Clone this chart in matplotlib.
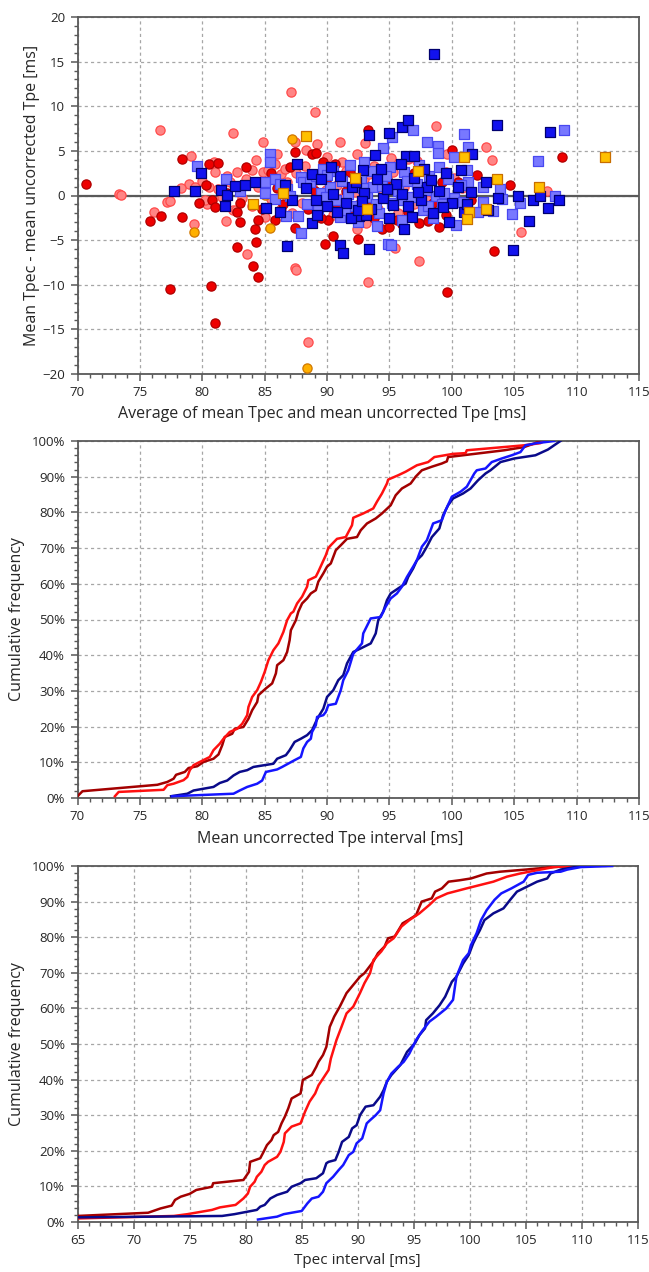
import matplotlib
matplotlib.use("Agg")
import matplotlib.pyplot as plt
from matplotlib.ticker import MultipleLocator, FuncFormatter
import numpy as np

plt.rcParams['font.family'] = ['Open Sans', 'DejaVu Sans']

# ---------------- Bland-Altman data: (average, difference) ----------------
dark_red_avg = [70.7, 75.8, 76.7, 77.4, 78.4, 78.4, 80.5, 80.7, 81.0, 81.3, 80.8, 81.0,
                82.8, 82.8, 83.0, 83.0, 83.5, 84.1, 84.5, 84.3, 84.2, 84.45, 87.4, 88.8,
                89.1, 89.7, 87.4, 89.8, 90.5, 92.5, 93.3, 94.4, 95.0, 95.6, 97.4, 98.1,
                99.65, 100.0, 100.5, 103.4, 104.7, 108.8, 90.1,
                85.5, 86.0, 86.5, 88.0, 88.5, 89.0, 89.5, 90.0, 90.8, 91.5, 92.0, 92.8,
                93.5, 95.5, 96.5, 97.0, 98.5, 99.2, 99.5, 101.5, 102.0, 82.0, 80.3, 79.7,
                84.8, 85.8, 87.0, 90.6, 91.8, 93.8, 94.8, 96.0, 97.8, 99.0]
dark_red_diff = [1.25, -2.9, -2.3, -10.5, 4.05, -2.45, 3.5, -10.1, -14.3, 3.6, -0.5, -1.3,
                 -5.8, -1.9, -3.0, -0.85, 3.15, -7.9, -9.1, -5.25, -3.7, -2.7, 4.9, 4.6,
                 4.75, 3.7, -3.6, -5.4, -4.5, -4.9, 7.3, -3.8, -3.5, -2.8, -3.1, -2.9,
                 -10.8, 5.1, 1.55, -6.2, 1.2, 4.3, -2.8,
                 2.5, 0.8, -1.0, 1.8, -1.5, 0.5, -2.5, 2.0, -1.0, 0.5, -2.0, 1.2,
                 -1.2, 0.8, -1.8, 2.5, -0.8, 1.5, -2.2, -0.5, 2.3, 0.3, 1.2, -0.8,
                 -1.5, -2.8, 3.2, 3.5, 2.6, -2.5, 1.8, -3.2, 0.6, -3.5]

light_red_avg = [73.3, 73.5, 76.6, 76.1, 77.2, 77.4, 79.1, 78.9, 79.4, 80.0, 80.5, 80.9,
                 81.0, 79.3, 80.4, 81.9, 82.5, 82.7, 82.5, 83.6, 84.9, 84.9, 87.1, 87.4,
                 87.4, 87.5, 88.5, 89.0, 89.2, 91.05, 92.4, 93.05, 92.4, 93.1, 93.3, 95.45,
                 97.4, 95.1, 98.7, 99.6, 102.7, 103.2, 105.55, 107.6,
                 82.0, 82.8, 83.5, 84.0, 84.5, 85.3, 85.8, 86.3, 86.8, 87.5, 88.2, 88.8,
                 89.6, 90.2, 90.8, 91.5, 92.2, 93.0, 93.8, 94.5, 95.3, 96.2, 97.2, 98.0,
                 99.5, 100.8, 83.2, 84.0, 85.5, 86.3, 87.2, 88.0, 89.2, 90.5, 91.2, 92.6,
                 94.1, 95.7, 97.0, 80.2, 81.3, 82.2, 78.3, 84.3, 86.0, 88.3, 90.0, 91.2,
                 96.5, 100.2, 81.6, 83.0, 85.0, 86.6, 88.6, 89.9, 91.9, 93.4]
light_red_diff = [0.2, 0.1, 7.3, -1.9, -0.7, -0.6, 4.4, 1.3, 1.0, 1.6, 1.0, 3.7,
                  2.6, -3.2, -0.9, -2.85, -1.6, -1.6, 7.0, -6.55, 6.05, 2.6, 11.55, 6.0,
                  -8.1, -8.3, -16.4, 9.35, 5.75, 6.0, 4.65, 5.9, -3.7, -3.1, -9.7, -5.9,
                  -7.35, 4.2, 7.8, 4.7, 5.4, 4.0, -4.05, 0.45,
                  2.2, 2.6, 1.9, 2.9, 1.0, 2.9, 3.5, 2.4, 1.5, 2.5, 3.3, 0.9,
                  1.9, 3.0, 1.2, 2.8, 0.4, 1.8, 3.3, 0.6, 2.6, 1.0, 3.9, -0.5,
                  2.6, 0.8, -0.3, -1.2, -0.4, -1.5, -2.0, -0.8, -1.3, -2.2, -0.3, -1.0,
                  -1.5, -2.0, -1.0, -0.5, 0.7, 1.5, 0.8, 4.0, 4.6, 5.1, 4.3, 3.8,
                  4.1, 2.0, -0.2, 0.9, -2.4, 3.0, 2.0, 0.6, -1.6, 2.4]

dark_blue_avg = [77.7, 79.4, 79.9, 81.5, 82.0, 82.6, 83.4, 84.2, 81.8, 85.1, 86.2, 86.6,
                 87.2, 87.6, 86.8, 88.8, 88.8, 89.1, 93.4, 95.0, 96.0, 96.5, 98.6, 93.85,
                 96.3, 97.0, 95.9, 92.9, 96.2, 93.4, 91.0, 91.3, 103.65, 107.9, 101.6, 102.7,
                 103.7, 102.9, 105.3, 106.5, 107.05, 108.6, 107.7, 106.2, 104.9, 92.6, 93.1,
                 91.9,
                 88.3, 89.5, 90.0, 90.5, 91.0, 91.5, 92.0, 92.5, 93.0, 93.5, 94.0, 94.5,
                 95.0, 95.5, 96.0, 96.5, 97.0, 97.5, 98.0, 98.5, 99.0, 99.5, 100.0, 100.5,
                 101.0, 101.5, 99.8, 97.8, 94.3, 90.3, 89.2, 100.7,
                 90.8, 92.3, 94.8, 96.8, 98.3, 99.3, 101.2, 95.3, 97.3, 92.8]
dark_blue_diff = [0.5, 0.55, 2.5, 0.6, 0.05, 1.1, 1.15, 1.55, -1.2, -1.45, -1.9, 1.2,
                  -0.5, 3.5, -5.7, -3.05, 2.4, -0.5, 6.8, 7.0, 7.7, 8.5, 15.85, 4.5,
                  4.4, 4.4, 3.5, 2.85, -3.8, -5.95, -5.5, -6.4, 7.9, 7.15, 4.7, 1.55,
                  -0.3, -1.6, -0.05, -0.45, -0.05, -0.5, -1.45, -2.85, -6.1, -2.3, -2.2,
                  -2.55,
                  0.8, 1.8, -1.2, 0.2, 2.2, -0.8, 1.0, -1.6, 0.3, -1.5, 1.8, -0.3,
                  -2.5, 1.3, 0.2, -1.2, 2.0, -0.5, 1.0, -2.0, 0.5, 2.5, -0.8, 0.9,
                  -1.8, 0.4, -3.0, 3.0, 3.0, 3.2, -2.2, 2.9,
                  -1.9, 1.5, 0.7, -2.4, 1.7, -1.3, -0.9, -1.1, 0.4, -0.6]

light_blue_avg = [79.6, 81.9, 83.0, 85.0, 85.4, 85.4, 85.8, 85.0, 85.8, 86.7, 87.7, 87.9,
                  86.8, 87.9, 88.1, 88.6, 89.1, 89.7, 89.5, 95.2, 96.85, 98.0, 98.9, 98.9,
                  94.5, 95.05, 93.6, 94.0, 94.9, 95.1, 101.0, 101.3, 100.2, 106.9, 109.0,
                  108.3, 105.5, 104.85, 102.5, 103.9, 103.3, 102.5, 102.1, 101.3, 101.2,
                  100.3, 104.0,
                  90.2, 90.7, 91.2, 91.7, 92.2, 92.7, 93.2, 93.7, 94.2, 94.7, 95.2, 95.7,
                  96.2, 96.7, 97.2, 97.7, 98.2, 98.7, 99.2, 99.7, 100.2, 100.7, 89.3, 88.4,
                  90.5, 91.8, 93.0, 96.0, 98.5, 97.4, 99.0, 91.0, 92.5, 87.0, 86.2,
                  89.9, 91.4, 92.9, 94.4, 95.9, 97.9, 99.4, 100.9, 90.0, 93.9, 96.4, 98.1]
light_blue_diff = [3.3, 1.8, 0.55, 1.55, 4.7, 3.8, 1.8, 0.3, -0.4, -2.3, -2.3, -4.2,
                   0.7, 2.1, 1.55, 1.5, 2.15, 3.0, 0.3, 6.5, 7.3, 6.0, 5.5, 4.8,
                   5.3, 3.2, 2.7, -3.4, -5.4, -5.6, 6.9, 5.4, 4.35, 3.9, 7.35,
                   -0.05, -0.8, -2.1, 1.0, 0.7, -1.7, -0.7, -1.8, 1.55, 2.9,
                   -3.3, -0.4,
                   1.0, -0.5, 1.6, 0.2, -1.2, 1.9, -0.2, 0.9, -2.0, 2.2, -0.8, 0.5,
                   2.6, -0.2, 1.3, -1.6, 2.2, 0.0, -1.0, 1.8, -0.3, 1.2, -1.5, -1.0,
                   2.7, 3.4, 3.8, -2.8, -2.5, 3.4, 3.2, -2.4, -3.0, 0.0, 1.3,
                   -0.2, -1.6, 0.8, 1.1, -0.5, 0.6, 0.3, -0.7, 2.3, -0.9, 1.6, -1.2]

orange_sq_avg = [84.1, 88.3, 93.2, 92.25, 97.3, 101.0, 103.6, 107.0, 112.3, 101.35, 101.2,
                 102.7, 86.5]
orange_sq_diff = [-0.95, 6.7, -1.55, 2.0, 2.8, 4.3, 1.9, 1.0, 4.35, -1.8, -2.6, -1.55, 0.3]
orange_ci_avg = [79.3, 87.2, 85.4, 88.4, 94.65, 85.0]
orange_ci_diff = [-4.1, 6.3, -3.6, -19.3, 2.4, 0.1]

# ---------------- Cumulative frequency curves (value, cumulative %) ----------------
tpe_dark_red_x = [70.0, 70.4, 76.4, 77.2, 77.7, 77.9, 78.6, 78.9, 79.6, 80.1, 80.9, 81.3,
                  81.6, 81.8, 82.4, 82.6, 83.3, 83.7, 84.0, 84.4, 84.5, 85.1, 85.6, 85.9,
                  86.0, 86.5, 86.8, 87.0, 87.1, 87.5, 87.7, 88.0, 88.4, 88.7, 89.1, 89.3,
                  89.7, 90.0, 90.3, 90.7, 91.1, 91.6, 92.4, 92.7, 93.2, 93.9, 94.4, 95.1,
                  95.5, 96.0, 96.7, 97.1, 97.6, 98.4, 99.2, 99.6, 99.7, 104.2, 105.8,
                  106.6, 107.1]
tpe_dark_red_y = [0.5, 1.9, 3.7, 4.5, 5.4, 6.5, 7.3, 8.4, 8.9, 10.1, 11.0, 12.2,
                  14.8, 17.1, 18.0, 19.4, 19.9, 22.2, 24.6, 26.9, 28.8, 30.7, 32.1, 34.9,
                  37.2, 38.6, 40.9, 44.2, 47.0, 49.8, 52.2, 54.5, 55.9, 57.3, 58.2, 60.6,
                  62.9, 64.8, 65.7, 69.4, 70.8, 72.6, 73.1, 75.0, 76.9, 78.3, 79.7, 82.0,
                  84.8, 86.7, 88.1, 90.0, 91.8, 92.8, 93.7, 94.3, 95.5, 97.4, 98.3,
                  99.3, 100.0]

tpe_red_x = [73.0, 73.3, 76.9, 77.2, 77.7, 78.5, 78.8, 79.0, 79.3, 79.8, 80.6, 80.9,
             81.4, 81.7, 82.2, 82.8, 83.2, 83.6, 83.7, 84.0, 84.4, 84.7, 85.0, 85.3,
             85.7, 86.1, 86.5, 86.8, 87.1, 87.3, 87.6, 88.0, 88.4, 88.5, 89.1, 89.3,
             89.6, 89.9, 90.1, 90.3, 90.8, 91.5, 92.0, 92.1, 92.9, 93.7, 94.0, 94.4,
             94.8, 94.9, 95.7, 96.3, 97.2, 98.1, 98.6, 100.1, 101.1, 101.2, 105.8,
             107.1, 107.4]
tpe_red_y = [0.5, 1.7, 2.3, 3.6, 4.0, 5.0, 5.9, 7.8, 9.2, 10.1, 11.5, 13.4,
             15.2, 16.6, 18.5, 19.4, 20.8, 23.2, 25.5, 28.3, 30.2, 32.5, 35.3, 38.6,
             41.4, 43.3, 46.5, 49.8, 51.7, 52.2, 54.5, 56.4, 59.2, 61.0, 62.0, 63.4,
             65.7, 68.0, 70.0, 70.8, 72.6, 73.1, 76.4, 78.5, 79.7, 81.1, 83.0, 85.3,
             88.1, 89.2, 90.4, 91.4, 93.2, 94.1, 95.5, 96.4, 96.6, 97.4, 98.8,
             99.4, 100.0]

tpe_dark_blue_x = [77.5, 78.8, 79.3, 80.9, 81.4, 82.0, 82.5, 83.0, 83.6, 84.1, 85.7, 86.0,
                   86.7, 87.0, 87.4, 87.9, 88.4, 88.8, 89.1, 89.3, 89.7, 90.0, 90.5, 90.9,
                   91.3, 91.6, 92.1, 92.7, 93.5, 93.9, 94.1, 94.5, 94.8, 95.1, 95.7, 96.3,
                   96.5, 96.9, 97.2, 97.6, 98.0, 98.4, 99.0, 99.3, 99.7, 100.1, 100.9,
                   101.5, 102.1, 102.7, 103.1, 103.9, 105.0, 106.7, 107.7, 108.7]
tpe_dark_blue_y = [0.5, 1.2, 2.1, 3.1, 4.2, 4.9, 6.3, 7.3, 7.8, 8.7, 9.6, 11.0,
                   12.0, 13.4, 15.7, 16.6, 17.6, 19.0, 21.3, 22.7, 25.0, 28.3, 30.2, 33.0,
                   34.4, 37.7, 40.9, 41.9, 43.3, 46.1, 49.8, 52.2, 55.4, 57.3, 58.7, 60.1,
                   61.9, 64.3, 66.6, 68.0, 70.4, 73.1, 75.5, 79.2, 82.0, 83.9, 85.3,
                   86.7, 89.0, 90.9, 91.8, 94.1, 95.1, 96.0, 97.6, 100.0]

tpe_blue_x = [77.6, 82.5, 83.0, 83.6, 84.4, 84.8, 85.1, 86.0, 86.4, 87.4, 87.9, 88.1,
              88.4, 88.7, 88.8, 89.1, 89.2, 89.7, 89.9, 90.1, 90.7, 91.1, 91.3, 91.7,
              92.1, 92.8, 92.9, 93.5, 94.3, 94.7, 95.1, 95.6, 96.0, 96.4, 96.9, 97.2,
              97.6, 98.0, 98.5, 99.2, 99.5, 100.0, 100.7, 101.2, 101.8, 102.0, 102.7,
              103.2, 104.0, 104.8, 105.5, 105.9, 106.8, 108.2]
tpe_blue_y = [0.5, 1.2, 2.1, 3.1, 4.0, 4.9, 7.3, 8.0, 8.7, 10.6, 11.5, 13.9,
              15.7, 16.6, 18.5, 20.4, 22.7, 23.2, 24.1, 26.0, 26.4, 30.2, 33.0, 35.8,
              40.4, 43.3, 46.1, 50.3, 50.7, 53.6, 55.9, 57.3, 59.2, 61.9, 64.8, 66.6,
              70.4, 72.2, 76.9, 77.8, 80.6, 84.4, 85.8, 87.2, 90.9, 91.8, 92.3,
              94.1, 95.1, 96.0, 96.9, 98.8, 99.4, 100.0]

tpec_dark_red_x = [65.0, 71.3, 72.4, 73.4, 73.7, 74.2, 75.0, 75.6, 77.0, 77.1, 79.8, 80.3,
                   80.4, 81.3, 81.6, 81.9, 82.3, 82.5, 82.9, 83.2, 83.5, 83.8, 84.1, 84.9,
                   85.1, 85.9, 86.3, 86.5, 86.9, 87.2, 87.5, 87.9, 88.4, 89.0, 89.6, 90.2,
                   90.6, 91.4, 91.8, 92.4, 92.7, 93.3, 94.0, 94.5, 95.2, 95.7, 96.6, 96.9,
                   97.5, 98.1, 99.1, 100.1, 101.5, 102.7, 105.0, 107.4, 109.2]
tpec_dark_red_y = [1.7, 2.6, 3.8, 4.6, 6.2, 7.1, 7.9, 9.0, 9.9, 10.9, 11.8, 14.1,
                   16.9, 17.9, 19.7, 21.6, 23.0, 24.4, 25.3, 27.7, 29.6, 31.9, 34.7, 36.1,
                   39.9, 41.3, 43.6, 45.0, 46.9, 49.2, 54.8, 57.7, 60.5, 64.3, 66.6, 68.9,
                   69.9, 73.2, 75.5, 77.4, 79.7, 80.2, 83.9, 84.8, 86.2, 90.0, 90.9, 92.8,
                   93.7, 95.6, 96.0, 96.5, 97.9, 98.4, 99.0, 99.7, 100.0]

tpec_red_x = [65.0, 73.6, 74.8, 77.0, 77.7, 79.1, 79.8, 80.2, 80.4, 80.8, 81.0, 81.4,
              81.7, 82.0, 82.8, 83.1, 83.4, 83.5, 84.1, 84.9, 85.3, 85.7, 86.2, 86.5,
              86.9, 87.4, 87.6, 88.1, 88.5, 89.0, 89.6, 90.2, 90.6, 91.1, 91.4, 92.1,
              92.6, 93.2, 93.9, 94.6, 95.5, 96.4, 97.0, 98.0, 99.7, 102.1, 103.3, 104.5,
              106.3, 107.5, 109.2]
tpec_red_y = [1.0, 1.7, 2.2, 3.4, 4.1, 4.8, 6.6, 8.0, 9.9, 11.3, 12.7, 14.1,
              16.0, 16.9, 18.3, 19.7, 22.5, 24.9, 26.8, 27.7, 31.0, 33.8, 36.1, 38.4,
              40.3, 42.7, 45.9, 51.1, 54.4, 58.6, 60.5, 64.3, 67.1, 69.9, 73.6, 76.0,
              78.3, 79.7, 83.0, 84.8, 86.7, 89.1, 90.9, 92.3, 93.7, 95.6, 97.0, 97.9,
              99.0, 99.7, 100.0]

tpec_dark_blue_x = [65.0, 77.9, 79.0, 81.0, 81.3, 81.7, 82.2, 82.8, 83.7, 84.1, 84.9, 85.3,
                    86.3, 86.9, 87.2, 87.4, 88.0, 88.3, 88.6, 89.2, 89.5, 89.9, 90.2, 90.7,
                    91.4, 92.0, 92.3, 92.6, 93.0, 93.8, 94.4, 95.1, 95.5, 96.0, 96.1, 96.7,
                    97.3, 97.8, 98.4, 98.8, 99.4, 99.9, 100.3, 100.6, 100.9, 101.3, 102.1,
                    103.0, 103.6, 104.2, 105.1, 106.0, 106.9, 107.2, 108.1, 109.9]
tpec_dark_blue_y = [1.3, 1.7, 2.2, 3.4, 4.3, 4.8, 6.6, 7.6, 8.5, 9.9, 10.9, 11.8,
                    12.3, 13.7, 16.5, 16.9, 17.4, 19.7, 22.5, 23.9, 26.3, 27.2, 30.0, 32.4,
                    32.8, 35.2, 37.0, 39.4, 41.3, 44.1, 47.8, 50.2, 52.5, 54.4, 56.7, 58.6,
                    60.9, 63.3, 67.5, 68.9, 72.6, 75.0, 78.3, 80.2, 82.0, 84.8, 86.7,
                    88.1, 90.5, 92.8, 94.2, 95.6, 96.5, 97.9, 99.0, 100.0]

tpec_blue_x = [81.1, 82.8, 83.4, 84.1, 85.0, 85.5, 85.9, 86.5, 86.9, 87.2, 87.8, 88.3,
               88.7, 89.2, 89.6, 89.9, 90.4, 90.8, 91.1, 91.6, 92.0, 92.3, 92.6, 93.0,
               93.6, 94.1, 94.6, 95.2, 95.8, 96.4, 97.0, 97.9, 98.5, 98.8, 99.4, 99.9,
               100.1, 100.6, 101.0, 101.5, 102.2, 102.8, 103.7, 104.8, 105.2, 106.0,
               108.1, 108.7, 109.9, 112.7]
tpec_blue_y = [0.7, 1.5, 2.2, 2.6, 3.1, 5.2, 6.6, 7.1, 8.5, 10.9, 12.7, 14.6,
               16.0, 18.8, 19.7, 22.1, 23.5, 27.7, 28.6, 30.0, 31.4, 36.1, 39.4, 41.7,
               43.6, 45.0, 47.3, 51.1, 53.9, 56.3, 57.7, 60.0, 62.4, 68.9, 73.6, 75.5,
               77.8, 81.1, 84.8, 87.6, 90.5, 92.3, 93.7, 95.6, 97.5, 98.1,
               98.4, 99.0, 99.7, 100.0]

# ---------------- styling ----------------
C_DARK_RED = '#a30000'
C_RED = '#ff1010'
C_NAVY = '#0a0a8a'
C_BLUE = '#1515ff'
SPINE = '#595959'
GRID = '#a6a6a6'
TXT = '#262626'

FIG_W, FIG_H = 649, 1272
fig = plt.figure(figsize=(FIG_W / 100, FIG_H / 100), dpi=100)


def add_axes(left, top, right, bottom):
    return fig.add_axes([left / FIG_W, 1 - bottom / FIG_H,
                         (right - left) / FIG_W, (bottom - top) / FIG_H])


def style(ax, xlim, ylim, xmaj, ymaj, xmin, ymin):
    ax.set_xlim(*xlim)
    ax.set_ylim(*ylim)
    ax.xaxis.set_major_locator(MultipleLocator(xmaj))
    ax.yaxis.set_major_locator(MultipleLocator(ymaj))
    ax.xaxis.set_minor_locator(MultipleLocator(xmin))
    ax.yaxis.set_minor_locator(MultipleLocator(ymin))
    for s in ax.spines.values():
        s.set_color(SPINE)
        s.set_linewidth(1.3)
    ax.tick_params(which='major', direction='out', length=5, width=1.1,
                   color=SPINE, labelsize=9.5, labelcolor=TXT, pad=4)
    ax.tick_params(which='minor', direction='out', length=3, width=1.0,
                   color=SPINE)
    ax.grid(True, which='major', color=GRID, linestyle=(0, (2.5, 2.5)),
            linewidth=0.9)
    ax.set_axisbelow(True)


# ---------------- panel 1: Bland-Altman scatter ----------------
ax1 = add_axes(77.5, 17, 639, 374)
style(ax1, (70, 115), (-20, 20), 5, 5, 1, 1)
ax1.axhline(0, color='#595959', lw=1.6, zorder=1.5)

ms = 44
ax1.scatter(light_red_avg, light_red_diff, s=ms, marker='o', facecolor='#ff8585',
            edgecolor='#ff4a4a', linewidth=0.9, zorder=3)
ax1.scatter(dark_red_avg, dark_red_diff, s=ms, marker='o', facecolor='#ee0000',
            edgecolor='#b00000', linewidth=0.9, zorder=3)
ax1.scatter(orange_ci_avg, orange_ci_diff, s=ms, marker='o', facecolor='#ffb000',
            edgecolor='#d07800', linewidth=0.9, zorder=3)
ax1.scatter(light_blue_avg, light_blue_diff, s=ms, marker='s', facecolor='#7878ff',
            edgecolor='#4848f0', linewidth=0.9, zorder=4)
ax1.scatter(dark_blue_avg, dark_blue_diff, s=ms, marker='s', facecolor='#1212ee',
            edgecolor='#00006e', linewidth=0.9, zorder=4)
ax1.scatter(orange_sq_avg, orange_sq_diff, s=ms, marker='s', facecolor='#ffc000',
            edgecolor='#c86e00', linewidth=0.9, zorder=4)

ax1.set_xlabel('Average of mean Tpec and mean uncorrected Tpe [ms]',
               fontsize=11.5, color=TXT)
ax1.xaxis.set_label_coords(0.436, -0.09)
ax1.set_ylabel('Mean Tpec - mean uncorrected Tpe [ms]', fontsize=11.5, color=TXT)
ax1.yaxis.set_label_coords(-0.066, 0.5)

pct = FuncFormatter(lambda v, p: f'{v:.0f}%')

# ---------------- panel 2: cumulative frequency, uncorrected Tpe ----------------
ax2 = add_axes(77.5, 441, 639, 798)
style(ax2, (70, 115), (0, 100), 5, 10, 1, 2)
ax2.yaxis.set_major_formatter(pct)
lw = 1.8
ax2.plot(tpe_dark_red_x, tpe_dark_red_y, color=C_DARK_RED, lw=lw, zorder=3)
ax2.plot(tpe_red_x, tpe_red_y, color=C_RED, lw=lw, zorder=3)
ax2.plot(tpe_dark_blue_x, tpe_dark_blue_y, color=C_NAVY, lw=lw, zorder=3)
ax2.plot(tpe_blue_x, tpe_blue_y, color=C_BLUE, lw=lw, zorder=3)
ax2.set_xlabel('Mean uncorrected Tpe interval [ms]', fontsize=11.5, color=TXT)
ax2.xaxis.set_label_coords(0.45, -0.092)
ax2.set_ylabel('Cumulative frequency', fontsize=11.5, color=TXT)
ax2.yaxis.set_label_coords(-0.093, 0.5)

# ---------------- panel 3: cumulative frequency, Tpec ----------------
ax3 = add_axes(77.5, 866, 638, 1222)
style(ax3, (65, 115), (0, 100), 5, 10, 1, 2)
ax3.yaxis.set_major_formatter(pct)
ax3.plot(tpec_dark_red_x, tpec_dark_red_y, color=C_DARK_RED, lw=lw, zorder=3)
ax3.plot(tpec_red_x, tpec_red_y, color=C_RED, lw=lw, zorder=3)
ax3.plot(tpec_dark_blue_x, tpec_dark_blue_y, color=C_NAVY, lw=lw, zorder=3)
ax3.plot(tpec_blue_x, tpec_blue_y, color=C_BLUE, lw=lw, zorder=3)
ax3.set_xlabel('Tpec interval [ms]', fontsize=11, color=TXT)
ax3.xaxis.set_label_coords(0.5, -0.088)
ax3.set_ylabel('Cumulative frequency', fontsize=11.5, color=TXT)
ax3.yaxis.set_label_coords(-0.093, 0.5)

fig.savefig('out.png', dpi=100)
